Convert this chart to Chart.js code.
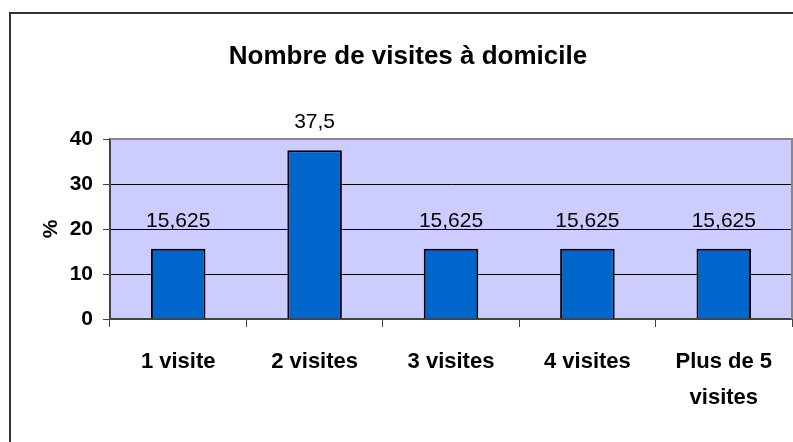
<!DOCTYPE html>
<html>
<head>
<meta charset="utf-8">
<script src="https://cdn.jsdelivr.net/npm/chart.js@4"></script>
<style>
  body { margin: 0; background: #fff; overflow: hidden; }
  #wrap { position: relative; width: 793px; height: 442px; }
  #frame { position: absolute; left: 9px; top: 12px; width: 900px; height: 600px; border: 2px solid #333; }
  canvas { position: absolute; left: 0; top: 0; }
</style>
</head>
<body>
<div id="wrap">
  <div id="frame"></div>
  <canvas id="visites" width="793" height="442"></canvas>
</div>
<script>
var categories = ['1 visite', '2 visites', '3 visites', '4 visites', ['Plus de 5', 'visites']];
var percents = [15.625, 37.5, 15.625, 15.625, 15.625];
var yTicks = [0, 10, 20, 30, 40];

var font = '"Liberation Sans", Arial, sans-serif';

// lavender plot area with grey top/right edge
var plotBg = {
    id: 'plotBg',
    beforeDraw: function(chart) {
        var a = chart.chartArea, c = chart.ctx;
        c.save();
        c.fillStyle = '#CCCCFF';
        c.fillRect(a.left, a.top, a.right - a.left, a.bottom - a.top);
        c.restore();
    },
    afterDraw: function(chart) {
        var a = chart.chartArea, c = chart.ctx;
        c.save();
        c.strokeStyle = '#888';
        c.lineWidth = 2;
        c.beginPath();
        c.moveTo(a.left, a.top);
        c.lineTo(a.right, a.top);
        c.lineTo(a.right, a.bottom);
        c.stroke();
        c.restore();
    }
};

// values written above each bar
var barLabels = {
    id: 'barLabels',
    afterDatasetsDraw: function(chart) {
        var c = chart.ctx;
        var meta = chart.getDatasetMeta(0);
        c.save();
        c.font = '21px ' + font;
        c.fillStyle = '#000';
        c.textAlign = 'center';
        c.textBaseline = 'alphabetic';
        meta.data.forEach(function(bar, i) {
            var txt = String(chart.data.datasets[0].data[i]).replace('.', ',');
            c.fillText(txt, bar.x, bar.y - 22);
        });
        c.restore();
    }
};

var ctx = document.getElementById('visites');
var chart = new Chart(ctx, {
    type: 'bar',
    data: {
        labels: categories,
        datasets: [{
            data: percents,
            backgroundColor: '#0066CC',
            borderColor: '#000',
            borderWidth: 2,
            barPercentage: 0.4,
            categoryPercentage: 1.0
        }]
    },
    options: {
        responsive: false,
        animation: false,
        layout: { padding: { left: 24, right: 1, top: 0, bottom: 0 } },
        plugins: {
            legend: { display: false },
            tooltip: { enabled: false },
            title: {
                display: true,
                text: 'Nombre de visites à domicile',
                color: '#000',
                font: { family: font, size: 26, weight: 'bold', lineHeight: 1.2 },
                padding: { top: 41, bottom: 66.8 }
            }
        },
        scales: {
            x: {
                afterFit: function(s) { s.height = 123; },
                grid: { drawOnChartArea: false, drawTicks: true, tickLength: 8, tickColor: '#444', lineWidth: 1 },
                border: { color: '#444', width: 2 },
                ticks: {
                    color: '#000',
                    padding: 17,
                    maxRotation: 0,
                    font: { family: font, size: 22, weight: 'bold', lineHeight: 1.64 }
                }
            },
            y: {
                min: 0,
                max: 40,
                afterFit: function(s) { s.width = 86; },
                afterBuildTicks: function(s) { s.ticks = yTicks.map(function(v) { return { value: v }; }); },
                grid: {
                    color: function(c) { return c.tick && c.tick.value === 40 ? 'rgba(0,0,0,0)' : '#000'; },
                    tickColor: '#444',
                    tickLength: 7,
                    lineWidth: 1
                },
                border: { color: '#444', width: 2 },
                ticks: {
                    color: '#000',
                    padding: 10,
                    font: { family: font, size: 21, weight: 'bold' }
                },
                title: {
                    display: true,
                    text: '%',
                    color: '#000',
                    padding: { top: 15, bottom: 0 },
                    font: { family: font, size: 21, weight: 'bold', lineHeight: 1.2 }
                }
            }
        }
    },
    plugins: [plotBg, barLabels]
});
</script>
</body>
</html>
